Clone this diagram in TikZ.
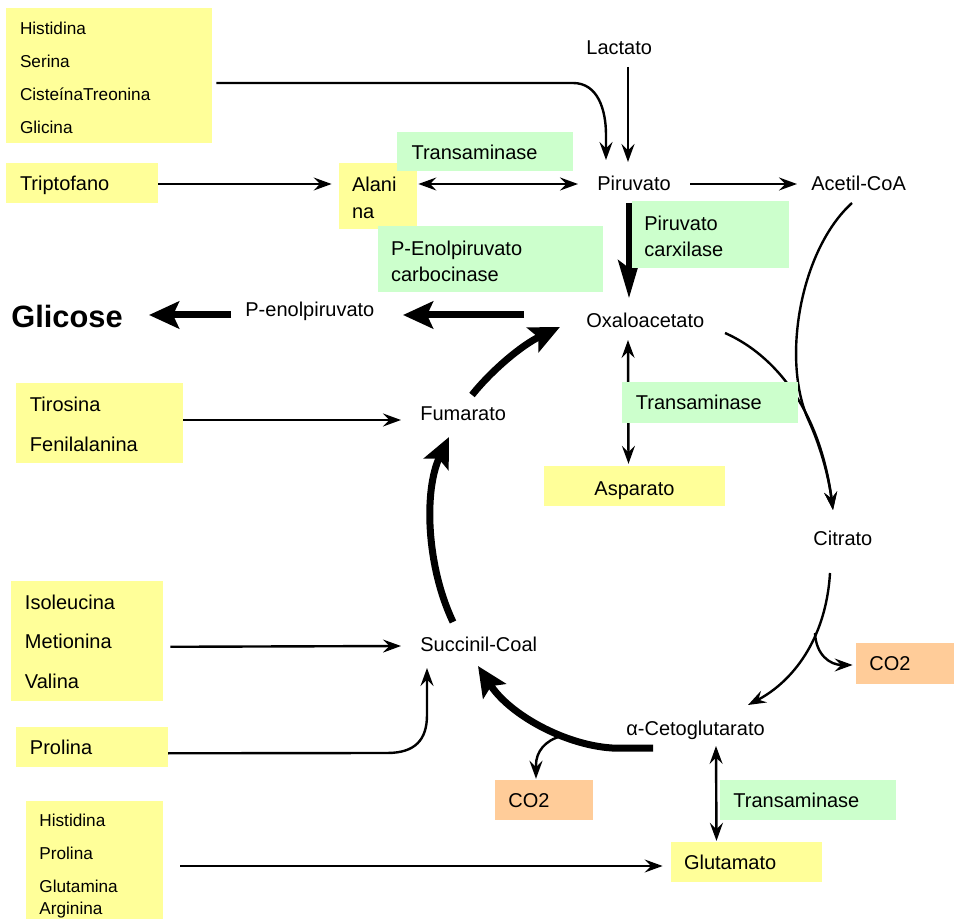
\documentclass[tikz,border=0pt]{standalone}
\usepackage{fontspec}
\setmainfont{Liberation Sans}
\usetikzlibrary{arrows.meta}
\pgfdeclarelayer{bg}
\pgfsetlayers{bg,main}
\definecolor{ylw}{HTML}{FFFF99}
\definecolor{grn}{HTML}{CCFFCC}
\definecolor{org}{HTML}{FFCC99}
\tikzset{
  box/.style={inner ysep=0pt, align=left, font=\fontsize{10}{13.3}\selectfont},
  smallbox/.style={inner ysep=0pt, align=left, font=\fontsize{8.6}{16.5}\selectfont},
  oneline/.style={text height=#1, text depth=1pt},
  oneline/.default=8.2pt,
  ybox/.style={fill=ylw},
  gbox/.style={fill=grn},
  obox/.style={fill=org},
  lbl/.style={anchor=base west, inner sep=0pt, font=\fontsize{10}{12}\selectfont},
  tarr/.style={line width=1.2pt, -{Stealth[length=9pt,width=6.5pt,inset=3.2pt]}},
  tdarr/.style={line width=1.2pt, {Stealth[length=9pt,width=6.5pt,inset=3.2pt]}-{Stealth[length=9pt,width=6.5pt,inset=3.2pt]}},
  karr/.style={line width=3.5pt, -{Stealth[length=15pt,width=13.5pt,inset=3pt]}},
  varr/.style={line width=2.6pt, -{Stealth[length=19pt,width=11pt,inset=4pt]}},
}
\begin{document}
\begin{tikzpicture}[x=0.5pt,y=-0.5pt]
\useasboundingbox (0,0) rectangle (954,919);
% boxes
\node[smallbox,ybox,minimum width=103pt,minimum height=67.5pt,inner xsep=7pt,text width=89pt,text height=8.2pt] (tl) at (109,75.5)
  {Histidina\\Serina\\CisteínaTreonina\\Glicina};
\node[box,ybox,oneline,minimum width=76pt,minimum height=20pt,inner xsep=7pt,text width=62pt] (trip) at (82,183) {Triptofano};
\node[box,ybox,minimum width=39pt,minimum height=33pt,inner xsep=6.5pt,text width=26pt,text height=9.2pt] (ala) at (378,196) {Alani\\na};
\node[box,gbox,oneline=9.2pt,minimum width=88pt,minimum height=19.5pt,inner xsep=7.3pt,text width=73.4pt] (tr1) at (485,151.5) {Transaminase};
\node[box,gbox,minimum width=112.5pt,minimum height=33pt,inner xsep=6.5pt,text width=99.5pt,text height=9.7pt] (pepck) at (490.5,259) {P-Enolpiruvato\\carbocinase};
\node[box,gbox,minimum width=78.7pt,minimum height=33.3pt,inner xsep=6.3pt,text width=66.1pt,text height=9.2pt] (pc) at (710.5,234.3) {Piruvato\\carxilase};
\node[box,ybox,minimum width=83.5pt,minimum height=39.7pt,inner xsep=7pt,text width=69.5pt,text height=8.2pt,font=\fontsize{10}{20}\selectfont] (tyr) at (99.5,423) {Tirosina\\Fenilalanina};
\node[box,gbox,oneline,minimum width=87.7pt,minimum height=20.2pt,inner xsep=6.8pt,text width=74.1pt] (tr2) at (710,402.5) {Transaminase};
\node[box,ybox,oneline=10.2pt,minimum width=90.5pt,minimum height=19.8pt,inner xsep=5.25pt,text width=80pt,align=center] (asp) at (634.5,486) {Asparato};
\node[box,ybox,minimum width=75.8pt,minimum height=59.8pt,inner xsep=6.8pt,text width=62.2pt,text height=8.2pt,font=\fontsize{10}{19.75}\selectfont] (ile) at (87.2,640.8) {Isoleucina\\Metionina\\Valina};
\node[box,ybox,oneline=8.7pt,minimum width=75.8pt,minimum height=19.8pt,inner xsep=7pt,text width=61.8pt] (pro) at (91.8,746.8) {Prolina};
\node[smallbox,ybox,minimum width=68.5pt,minimum height=59pt,inner xsep=6.7pt,text width=55.1pt,text height=12.2pt] (his2) at (94.5,860)
  {Histidina\\Prolina\\Glutamina\\[-5.2pt]Arginina};
\node[box,obox,oneline,minimum width=49pt,minimum height=20.2pt,inner xsep=6.7pt,text width=35.6pt] (co2r) at (905,663.5) {CO2};
\node[box,obox,oneline,minimum width=49pt,minimum height=19.8pt,inner xsep=6.7pt,text width=35.6pt] (co2l) at (544,800) {CO2};
\node[box,gbox,oneline,minimum width=88pt,minimum height=19.8pt,inner xsep=6.7pt,text width=74.6pt] (tr3) at (808,800) {Transaminase};
\node[box,ybox,oneline,minimum width=75.5pt,minimum height=19.7pt,inner xsep=6.5pt,text width=62.5pt] (glu) at (746.5,862) {Glutamato};
% metabolite labels
\node[lbl] (lac) at (586,55) {Lactato};
\node[lbl] (pir) at (597,191) {Piruvato};
\node[lbl] (acc) at (811,191) {Acetil-CoA};
\node[lbl,font=\bfseries\fontsize{15.4}{18}\selectfont] (gli) at (11,328) {Glicose};
\node[lbl] (pep) at (245,317) {P-enolpiruvato};
\node[lbl] (oaa) at (586,328) {Oxaloacetato};
\node[lbl] (fum) at (420,421) {Fumarato};
\node[lbl] (cit) at (813,546) {Citrato};
\node[lbl] (suc) at (420,652) {Succinil-Coal};
\node[lbl] (akg) at (626,735) {α-Cetoglutarato};
\begin{pgfonlayer}{bg}
\fill[white] (0,0) rectangle (954,919);
% top feeders
\draw[tarr] ([shift={(4,7.5)}]tl.east) -- (573,83) .. controls (598,83) and (606,110) .. (606,135) -- ([shift={(9,-31)}]pir.base west);
\draw[tarr] ([shift={(42,12)}]lac.base west) -- ([shift={(31,-29)}]pir.base west);
\draw[tarr] ([shift={(0,1)}]trip.east) -- ([shift={(-7,-12)}]ala.west);
\draw[tdarr] ([shift={(1,-12)}]ala.east) -- ([shift={(-19,-7)}]pir.base west);
\draw[tarr] ([shift={(93,-7)}]pir.base west) -- ([shift={(-14,-7)}]acc.base west);
% gluconeogenesis main
\draw[varr] ([shift={(32,12)}]pir.base west) -- ([shift={(43,-30)}]oaa.base west);
\draw[karr] ([shift={(-62,-13)}]oaa.base west) -- ([shift={(158,-2)}]pep.base west);
\draw[karr] ([shift={(-14,-2)}]pep.base west) -- ([shift={(138,-13)}]gli.base west);
% cycle
\draw[tarr] ([shift={(0,-3)}]tyr.east) -- ([shift={(-19,-1)}]fum.base west);
\draw[karr] ([shift={(52,-26)}]fum.base west) .. controls (492,370) and (522,345) .. ([shift={(-26,-1)}]oaa.base west);
\draw[karr] ([shift={(33,-30)}]suc.base west) .. controls (426,565) and (424,490) .. ([shift={(29,16)}]fum.base west);
\draw[karr] ([shift={(27,13)}]akg.base west) -- (612,748) .. controls (565,745) and (510,715) .. ([shift={(58,14)}]suc.base west);
\coordinate (br1) at (562,736);
\draw[tarr] (br1) .. controls (545,740) and (536,752) .. (536,765) -- ([shift={(-8,-1)}]co2l.north);
\draw[tarr] ([shift={(139,5)}]oaa.base west) .. controls (775,355) and (820,410) .. ([shift={(20,-36)}]cit.base west);
\draw[tarr] ([shift={(41,12)}]acc.base west) .. controls (800,250) and (781,361) .. (808.9,421) .. controls (820,445.5) and (828.45,475) .. ([shift={(20,-36)}]cit.base west);
\draw[tarr] ([shift={(17,27)}]cit.base west) .. controls (826,640) and (792,682) .. ([shift={(122,-30)}]akg.base west);
\coordinate (br2) at (815,633);
\draw[tarr] (br2) .. controls (816,655) and (830,665) .. ([shift={(-3,1.5)}]co2r.west);
\draw[tdarr] ([shift={(90,11)}]akg.base west) -- ([shift={(-30,-1)}]glu.north);
\draw[tdarr] ([shift={(42,12)}]oaa.base west) -- ([shift={(-6,-2)}]asp.north);
% lower feeders
\draw[tarr] ([shift={(7,6)}]ile.east) -- ([shift={(-19,-6)}]suc.base west);
\draw[tarr] ([shift={(0,6.5)}]pro.east) -- (387,753) .. controls (415,753) and (427,740) .. (427,715) -- ([shift={(7,16)}]suc.base west);
\draw[tarr] ([shift={(17,6)}]his2.east) -- ([shift={(-8,4)}]glu.west);
\end{pgfonlayer}
\end{tikzpicture}
\end{document}
